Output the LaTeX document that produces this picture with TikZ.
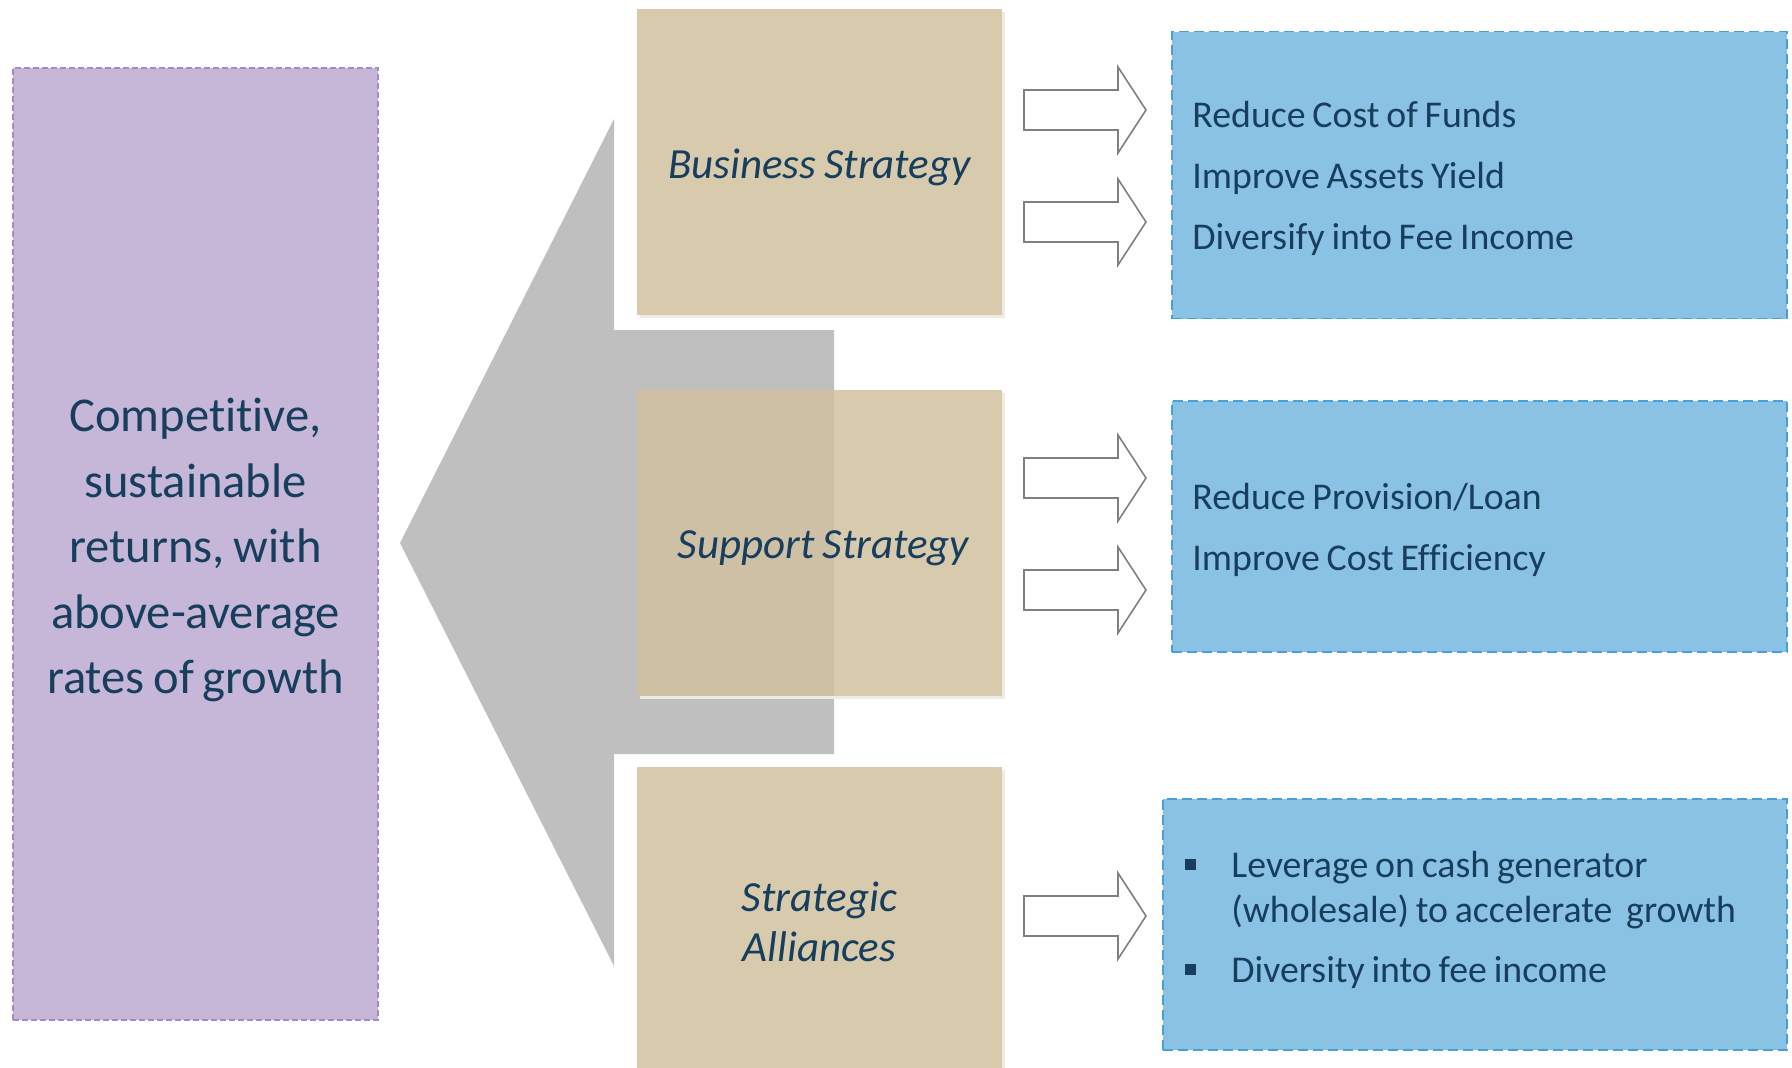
\documentclass[tikz,border=0pt]{standalone}
\usepackage{fontspec}
\setmainfont{Carlito}[WordSpace=0.8, Ligatures=NoCommon]
\usetikzlibrary{shadows}

\definecolor{lilac}{RGB}{198,182,216}
\definecolor{lilacline}{RGB}{166,138,196}
\definecolor{sand}{RGB}{216,202,172}
\definecolor{sandshade}{RGB}{240,235,226}
\definecolor{sanddark}{RGB}{206,192,165}
\definecolor{funnelgray}{RGB}{191,191,191}
\definecolor{sky}{RGB}{138,194,228}
\definecolor{skyline}{RGB}{72,160,216}
\definecolor{navy}{RGB}{24,62,94}
\definecolor{arrowgray}{RGB}{128,128,128}

\tikzset{goalbox/.style={fill=lilac, draw=lilacline, dash pattern=on 6pt off 3pt, line width=1.3pt,
    minimum width=365pt, minimum height=952pt}}
\tikzset{goaltext/.style={align=center, text=navy, font=\fontsize{48.6}{65.5}\selectfont\frenchspacing}}
\tikzset{stratbox/.style={fill=sand, minimum width=365pt, minimum height=306pt, inner sep=0pt,
    drop shadow={fill=sandshade, opacity=1, shadow xshift=3pt, shadow yshift=-3pt}}}
\tikzset{strattext/.style={text=navy, align=center, font=\fontsize{43}{50}\selectfont\itshape}}
\tikzset{aimbox/.style={fill=sky, draw=skyline, dash pattern=on 10pt off 5pt, line width=1.5pt}}
\tikzset{aimtext/.style={anchor=west, inner sep=0pt, text=navy, align=left, font=\fontsize{37.8}{61}\selectfont}}
\tikzset{fatarrow/.pic={\draw[arrowgray, fill=white, line width=1.6pt]
    (0,-20) -- (94,-20) -- (94,-43) -- (122,0) -- (94,43) -- (94,20) -- (0,20) -- cycle;}}

\newcommand{\bul}{\raisebox{7pt}{\rule{11pt}{11pt}}}

\begin{document}
\begin{tikzpicture}[x=1pt, y=-1pt]
\useasboundingbox (0,0) rectangle (1792,1068);
\clip (0,0) rectangle (1792,1068);

% funnel behind the strategies
\fill[funnelgray] (400,543) -- (614,119) -- (614,330) -- (834,330) -- (834,754)
    -- (614,754) -- (614,966) -- cycle;

\node[goalbox] (goal) at (195.5,544) {};
\node[goaltext] (goalt) at ([yshift=-6pt]goal.center)
    {Competitive,\\ sustainable\\ returns, with\\ above-average\\ rates of growth};

% strategies
\node[stratbox] (bus) at (819.5,162) {};
\node[stratbox] (sup) at (819.5,543) {};
\node[stratbox] (ali) at (819.5,920) {};
\fill[sanddark] (sup.north west) rectangle (834,696);
\node[strattext] (bust) at ([yshift=-5pt]bus.center) {Business Strategy};
\node[strattext] (supt) at ([xshift=4pt,yshift=-5pt]sup.center) {Support Strategy};
\node[strattext] (alit) at ([yshift=-2pt]ali.center) {Strategic\\ Alliances};

% aims
\node[aimbox, minimum width=615pt, minimum height=287pt] (aim1) at (1479.5,175) {};
\node[aimbox, minimum width=615pt, minimum height=251pt] (aim2) at (1479.5,526.5) {};
\node[aimbox, minimum width=624pt, minimum height=251pt] (aim3) at (1475,924.5) {};
\node[aimtext] (aim1t) at ([xshift=21pt,yshift=-3pt]aim1.west)
    {Reduce Cost of Funds\\ Improve Assets Yield\\ Diversify into Fee Income};
\node[aimtext] (aim2t) at ([xshift=21pt,yshift=-3pt]aim2.west)
    {Reduce Provision/Loan\\ Improve Cost Efficiency};
\node[aimtext, font=\fontsize{37.8}{45}\selectfont] (aim3t) at ([xshift=23pt,yshift=4pt]aim3.west)
    {\begin{tabular}{@{}p{46pt}@{}l@{}}
     \bul & Leverage on cash generator\\
          & (wholesale) to accelerate\ \ growth\\[15pt]
     \bul & Diversity into fee income
     \end{tabular}};

% block arrows
\foreach \ay in {110,222,478,590,916}
  \pic at (1024,\ay) {fatarrow};

\end{tikzpicture}
\end{document}
